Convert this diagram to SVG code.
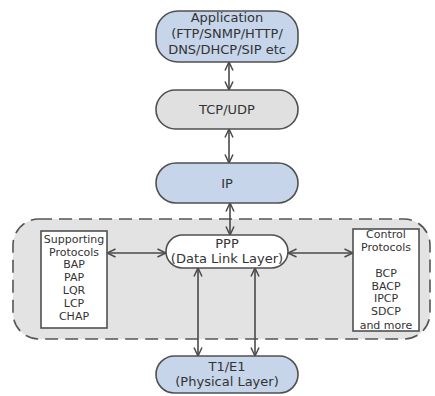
<svg xmlns="http://www.w3.org/2000/svg" width="435" height="396" viewBox="0 0 435 396">
  <style>
    .node { stroke: #505050; stroke-width: 1.6; }
    .blue { fill: #c6d5ea; }
    .grey { fill: #e0e0e0; }
    .white { fill: #ffffff; }
    .box { fill: #ffffff; stroke: #505050; stroke-width: 1.6; }
    .zone { fill: #e3e3e3; stroke: #555555; stroke-width: 1.6; stroke-dasharray: 13 7; }
    .lbl { font-family: "DejaVu Sans", Verdana, sans-serif; font-size: 13px; fill: #333333; text-anchor: middle; }
    .sm { font-family: "DejaVu Sans", Verdana, sans-serif; font-size: 11px; fill: #333333; text-anchor: middle; }
    .link { stroke: #4a4a4a; stroke-width: 1.6; fill: none; marker-start: url(#tip); marker-end: url(#tip); }
  </style>
  <defs>
    <marker id="tip" viewBox="0 0 10 10" refX="9.5" refY="5" markerWidth="10" markerHeight="10" markerUnits="userSpaceOnUse" orient="auto-start-reverse">
      <path d="M1,1 L9.5,5 L1,9" fill="none" stroke="#4a4a4a" stroke-width="1.5"/>
    </marker>
  </defs>

  <!-- dashed PPP zone -->
  <rect class="zone" x="13" y="219" width="417" height="120" rx="26"/>

  <g id="connectors">
    <line class="link" x1="229" y1="62" x2="229" y2="90"/>
    <line class="link" x1="229" y1="129" x2="229" y2="163"/>
    <line class="link" x1="230" y1="203" x2="230" y2="235"/>
    <line class="link" x1="107" y1="253" x2="166" y2="253"/>
    <line class="link" x1="288" y1="253" x2="353" y2="253"/>
    <line class="link" x1="198" y1="268" x2="198" y2="356"/>
    <line class="link" x1="255" y1="268" x2="255" y2="356"/>
  </g>

  <g id="application">
    <rect class="node blue" x="156" y="11" width="142" height="51" rx="22"/>
    <text class="lbl" x="227" y="22">Application</text>
    <text class="lbl" x="227" y="38">(FTP/SNMP/HTTP/</text>
    <text class="lbl" x="227" y="54">DNS/DHCP/SIP etc</text>
  </g>

  <g id="tcp-udp">
    <rect class="node grey" x="156" y="90" width="142" height="39" rx="19.5"/>
    <text class="lbl" x="227" y="114">TCP/UDP</text>
  </g>

  <g id="ip">
    <rect class="node blue" x="156" y="163" width="142" height="40" rx="20"/>
    <text class="lbl" x="227" y="188">IP</text>
  </g>

  <g id="ppp">
    <rect class="node white" x="166" y="235" width="122" height="33" rx="16.5"/>
    <text class="lbl" x="227" y="248">PPP</text>
    <text class="lbl" x="227" y="263">(Data Link Layer)</text>
  </g>

  <g id="supporting">
    <rect class="box" x="41" y="231" width="66" height="97"/>
    <text class="sm" x="74" y="243">Supporting</text>
    <text class="sm" x="74" y="256">Protocols</text>
    <text class="sm" x="74" y="268">BAP</text>
    <text class="sm" x="74" y="281">PAP</text>
    <text class="sm" x="74" y="294">LQR</text>
    <text class="sm" x="74" y="307">LCP</text>
    <text class="sm" x="74" y="320">CHAP</text>
  </g>

  <g id="control">
    <rect class="box" x="353" y="229" width="66" height="102"/>
    <text class="sm" x="386" y="238">Control</text>
    <text class="sm" x="386" y="251">Protocols</text>
    <text class="sm" x="386" y="277">BCP</text>
    <text class="sm" x="386" y="290">BACP</text>
    <text class="sm" x="386" y="302">IPCP</text>
    <text class="sm" x="386" y="315">SDCP</text>
    <text class="sm" x="386" y="329">and more</text>
  </g>

  <g id="t1-e1">
    <rect class="node blue" x="156" y="356" width="142" height="37" rx="18.5"/>
    <text class="lbl" x="227" y="371">T1/E1</text>
    <text class="lbl" x="227" y="386">(Physical Layer)</text>
  </g>
</svg>
